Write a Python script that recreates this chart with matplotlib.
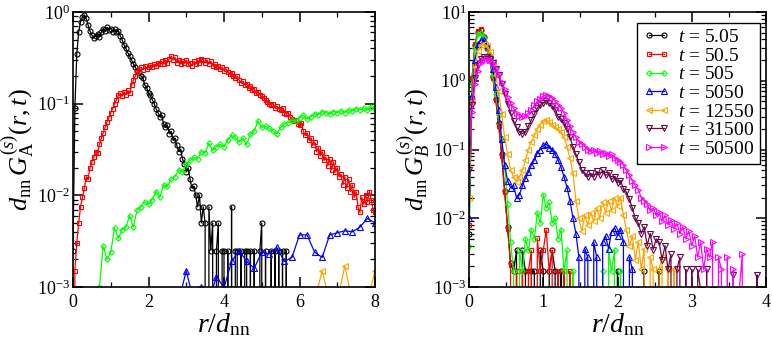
import matplotlib
matplotlib.use("Agg")
import matplotlib.pyplot as plt
import numpy as np
from matplotlib.ticker import MultipleLocator, LogLocator, NullFormatter

# ---- left panel: d_nn G_A^(s)(r,t), r sampled on regular grids ----
a_step_fine = 0.05
a_black = [0.0025, 0.09, 0.35, 0.6, 0.78, 0.88, 0.93, 0.85, 0.72, 0.62,
           0.56, 0.52, 0.55, 0.58, 0.54, 0.6, 0.66, 0.62, 0.68, 0.64,
           0.66, 0.61, 0.65, 0.6, 0.62, 0.55, 0.5, 0.44, 0.4, 0.36,
           0.33, 0.3, 0.27, 0.25, 0.23, 0.22, 0.2, 0.19, 0.16, 0.15,
           0.13, 0.125, 0.11, 0.1, 0.088, 0.08, 0.072, 0.075, 0.06, 0.055,
           0.058, 0.047, 0.05, 0.04, 0.042, 0.035, 0.03, 0.032, 0.025, 0.022,
           0.018, 0.02, 0.015, 0.012, 0.0125, 0.01, 0.0075, 0.01, 0.005, 0.0075,
           0.005, 0, 0.0075, 0.0025, 0.005, 0, 0.0025, 0.005, 0, 0.0025,
           0.0025, 0, 0.0025, 0, 0.0075, 0, 0.0025, 0.0025, 0, 0.0025,
           0, 0.0025, 0.0025, 0, 0.0025, 0, 0.0025, 0, 0, 0.0025,
           0.005, 0, 0.0025, 0, 0, 0.0025, 0, 0.0025, 0, 0.0025,
           0, 0.0025, 0, 0.0025, 0]
a_red = [0, 0.0015, 0.003, 0.005, 0.0075, 0.0095, 0.012, 0.016, 0.015, 0.02,
         0.023, 0.026, 0.03, 0.029, 0.036, 0.042, 0.048, 0.055, 0.063, 0.07,
         0.08, 0.088, 0.1, 0.11, 0.125, 0.13, 0.12, 0.135, 0.125, 0.14,
         0.13, 0.16, 0.18, 0.2, 0.22, 0.24, 0.25, 0.235, 0.26, 0.24,
         0.25, 0.265, 0.25, 0.27, 0.26, 0.28, 0.27, 0.29, 0.27, 0.3,
         0.28, 0.31, 0.33, 0.3, 0.32, 0.28, 0.3, 0.27, 0.29, 0.28,
         0.3, 0.27, 0.28, 0.26, 0.29, 0.27, 0.3, 0.28, 0.31, 0.3,
         0.28, 0.3, 0.27, 0.29, 0.26, 0.27, 0.25, 0.26, 0.24, 0.25,
         0.23, 0.24, 0.22, 0.21, 0.215, 0.2, 0.19, 0.2, 0.18, 0.17,
         0.175, 0.16, 0.165, 0.15, 0.155, 0.14, 0.145, 0.13, 0.135, 0.125,
         0.12, 0.115, 0.11, 0.105, 0.1, 0.097, 0.1, 0.09, 0.094, 0.088,
         0.085, 0.09, 0.08, 0.078, 0.08, 0.072, 0.068, 0.064, 0.067, 0.06,
         0.058, 0.062, 0.05, 0.045, 0.048, 0.04, 0.042, 0.035, 0.038, 0.03,
         0.033, 0.027, 0.03, 0.024, 0.026, 0.021, 0.025, 0.019, 0.023, 0.018,
         0.02, 0.016, 0.017, 0.013, 0.016, 0.012, 0.015, 0.011, 0.013, 0.0095,
         0.011, 0.0075, 0.0065, 0.0095, 0.008, 0.01, 0.0085, 0.011, 0.009, 0.007,
         0.0065]
a_green_start, a_green_step = 0.6, 0.1
a_green = [0, 0.001, 0.0028, 0.002, 0.0024, 0.0044, 0.0034, 0.0042, 0.0045, 0.006,
           0.0045, 0.007, 0.0075, 0.0085, 0.008, 0.009, 0.011, 0.0095, 0.013, 0.0125,
           0.015, 0.016, 0.019, 0.018, 0.022, 0.024, 0.026, 0.025, 0.03, 0.029,
           0.037, 0.031, 0.034, 0.036, 0.034, 0.04, 0.045, 0.043, 0.038, 0.042,
           0.036, 0.047, 0.05, 0.065, 0.055, 0.057, 0.054, 0.05, 0.047, 0.055,
           0.06, 0.062, 0.066, 0.064, 0.07, 0.075, 0.068, 0.072, 0.078, 0.076,
           0.082, 0.08, 0.077, 0.082, 0.08, 0.084, 0.08, 0.086, 0.083, 0.088,
           0.086, 0.09, 0.085, 0.092, 0.087]
a_blue_start, a_blue_step = 2.8, 0.2
a_blue = [0.0007, 0.0015, 0.0007, 0.001, 0.0007, 0.0013, 0.00098, 0.0019, 0.0025,
          0.0019, 0.0016, 0.0024, 0.0023, 0.0027, 0.0019, 0.0021, 0.0037, 0.0037,
          0.0024, 0.0021, 0.0037, 0.0039, 0.0041, 0.004, 0.0045, 0.0056, 0.005]
a_orange_start, a_orange_step = 6.4, 0.2
a_orange = [0.0007, 0.0015, 0.0007, 0.0007, 0.0017, 0.0007, 0.0007, 0.0007, 0.0015]

# ---- right panel: d_nn G_B^(s)(r,t), r step 0.04 from 0 ----
b_step = 0.04
b_black = [0.006, 1.0, 3.3, 5.2, 5.5, 4.3, 3.0, 2.0, 1.15, 0.55,
           0.24, 0.085, 0.025, 0.0075, 0.0022, 0.0017, 0.0034, 0, 0.0034, 0.0017,
           0, 0.0017, 0.0017, 0, 0.0034, 0.0017, 0, 0.0017, 0.0034, 0.0017,
           0, 0.0017, 0, 0, 0, 0, 0, 0, 0, 0,
           0, 0, 0, 0, 0, 0, 0, 0, 0, 0,
           0.0017, 0, 0, 0, 0, 0, 0, 0, 0, 0.0017,
           0, 0, 0, 0, 0.0017, 0]
b_red = [0.008, 1.1, 3.4, 5.3, 5.6, 4.4, 3.0, 2.0, 1.1, 0.52,
         0.22, 0.08, 0.024, 0.007, 0.0021, 0, 0.0017, 0, 0.0017, 0,
         0.0017, 0.0034, 0, 0.0051, 0.0017, 0.0034, 0.0068, 0.0017, 0.0034, 0,
         0.0017, 0, 0.0017, 0, 0.0017, 0]
b_green = [0.004, 0.9, 3.0, 4.8, 5.0, 4.2, 3.1, 2.0, 1.2, 0.65,
           0.32, 0.14, 0.055, 0.016, 0.0045, 0.0017, 0, 0.0034, 0.0017, 0.005,
           0.0034, 0.0068, 0.005, 0.012, 0.0085, 0.022, 0.014, 0.017, 0.0085, 0.01,
           0.005, 0.0068, 0.0017, 0.0034, 0, 0.0017, 0, 0, 0, 0,
           0, 0, 0, 0, 0, 0.0017, 0, 0.0034, 0.0017, 0.0034,
           0, 0.0017, 0, 0]
b_blue = [0.01, 0.6, 2.0, 3.4, 3.9, 3.9, 3.3, 2.4, 1.5, 0.8,
          0.38, 0.14, 0.06, 0.035, 0.028, 0.03, 0.02, 0.022, 0.03, 0.038,
          0.047, 0.06, 0.07, 0.09, 0.1, 0.115, 0.12, 0.105, 0.1, 0.085,
          0.07, 0.055, 0.04, 0.028, 0.018, 0.01, 0.006, 0.0027, 0, 0.0036,
          0.0027, 0, 0.0045, 0.0027, 0, 0.0045, 0.0055, 0.0036, 0.0064, 0.0073,
          0.0055, 0.0068, 0.0045, 0, 0.0027, 0.0018, 0, 0.0009]
b_orange = [0.02, 0.5, 1.6, 2.7, 3.3, 3.4, 3.2, 2.6, 1.9, 1.2,
            0.7, 0.33, 0.15, 0.085, 0.05, 0.04, 0.034, 0.04, 0.05, 0.07,
            0.1, 0.13, 0.16, 0.2, 0.23, 0.26, 0.27, 0.25, 0.23, 0.21,
            0.2, 0.18, 0.15, 0.11, 0.075, 0.045, 0.018, 0.01, 0.0065, 0.011,
            0.008, 0.012, 0.009, 0.014, 0.01, 0.017, 0.012, 0.018, 0.013, 0.02,
            0.015, 0.02, 0.011, 0.0068, 0.004, 0.0055, 0.0025, 0.0045, 0.0018, 0.0036,
            0, 0.0027, 0.0018, 0, 0.0018, 0.0027, 0, 0.0018, 0, 0.0018,
            0, 0.0009]
b_maroon = [0.05, 0.45, 1.1, 1.7, 2.1, 2.25, 2.25, 2.05, 1.8, 1.5,
            1.2, 0.9, 0.65, 0.46, 0.34, 0.26, 0.21, 0.18, 0.17, 0.18,
            0.22, 0.27, 0.33, 0.4, 0.45, 0.48, 0.5, 0.47, 0.43, 0.38,
            0.3, 0.28, 0.24, 0.2, 0.15, 0.11, 0.085, 0.065, 0.05, 0.046,
            0.04, 0.045, 0.04, 0.048, 0.043, 0.05, 0.042, 0.045, 0.037, 0.04,
            0.033, 0.035, 0.027, 0.024, 0.019, 0.014, 0.01, 0.0085, 0.006, 0.0075,
            0.004, 0.006, 0.0035, 0.005, 0.0045, 0.0025, 0.004, 0.0018, 0.003, 0,
            0.0018, 0.0027, 0, 0.0018, 0, 0.0018, 0, 0.0018, 0.0009, 0,
            0.0018, 0, 0.0009, 0, 0, 0, 0, 0, 0, 0.0015,
            0, 0, 0, 0, 0, 0, 0, 0.0015, 0]
b_magenta = [0.1, 0.35, 0.9, 1.4, 1.8, 2.0, 2.05, 2.0, 1.8, 1.55,
             1.25, 0.95, 0.75, 0.58, 0.47, 0.4, 0.34, 0.31, 0.3, 0.31,
             0.34, 0.38, 0.44, 0.5, 0.55, 0.6, 0.63, 0.6, 0.56, 0.5,
             0.45, 0.4, 0.34, 0.27, 0.22, 0.18, 0.15, 0.13, 0.12, 0.11,
             0.1, 0.095, 0.1, 0.09, 0.095, 0.085, 0.09, 0.08, 0.085, 0.075,
             0.07, 0.065, 0.06, 0.05, 0.042, 0.035, 0.03, 0.026, 0.02, 0.018,
             0.016, 0.013, 0.014, 0.011, 0.0125, 0.009, 0.011, 0.008, 0.0095, 0.007,
             0.0085, 0.006, 0.0075, 0.005, 0.0065, 0.004, 0.0055, 0.0027, 0.0045, 0.0018,
             0.0036, 0.0027, 0.0045, 0, 0.0027, 0.0018, 0, 0.0027, 0, 0.0018,
             0, 0.0009, 0.003, 0]

labels = ["5.05", "50.5", "505", "5050", "12550", "31500", "50500"]
colors = ["black", "#ff0000", "#00ff00", "#0000ff", "#ffa500", "#670748", "#ff00ff"]
markers = ["o", "s", "D", "^", "<", "v", ">"]
msizes = [3.6, 3.4, 2.8, 3.8, 3.8, 3.8, 3.8]

plt.rcParams.update({
    "font.family": "Liberation Serif",
    "mathtext.fontset": "custom",
    "mathtext.rm": "Liberation Serif",
    "mathtext.it": "Liberation Serif:italic",
    "mathtext.bf": "Liberation Serif:bold",
    "xtick.direction": "in",
    "ytick.direction": "in",
    "xtick.top": True,
    "ytick.right": True,
    "axes.linewidth": 1.2,
})


def grid(n, start, step):
    return start + step * np.arange(n)


def draw(ax, x, y, i, label=None):
    ax.plot(x, y, color=colors[i], lw=0.9, marker=markers[i], ms=msizes[i],
            mfc="none", mew=0.8, label=label)


def style_axes(ax, xmax, xmajor, xminor, ymin, ymax):
    ax.set_yscale("log")
    ax.set_xlim(0, xmax)
    ax.set_ylim(ymin, ymax)
    ax.xaxis.set_major_locator(MultipleLocator(xmajor))
    ax.xaxis.set_minor_locator(MultipleLocator(xminor))
    ax.yaxis.set_minor_locator(LogLocator(base=10, subs=np.arange(2, 10)))
    ax.yaxis.set_minor_formatter(NullFormatter())
    ax.tick_params(which="major", length=7, width=1.1, labelsize=13)
    ax.tick_params(which="minor", length=3.5, width=0.9)
    ax.tick_params(axis="x", pad=5)
    ax.tick_params(axis="y", pad=2)
    ax.set_xlabel(r"$r/d_{\rm nn}$", fontsize=20, labelpad=0)


fig = plt.figure(figsize=(7.72, 3.38), dpi=100)
ax1 = fig.add_axes([73 / 772, 51 / 338, 302 / 772, 275 / 338])
ax2 = fig.add_axes([469 / 772, 51 / 338, 297 / 772, 275 / 338])

# left panel
draw(ax1, grid(len(a_black), 0, a_step_fine), a_black, 0)
draw(ax1, grid(len(a_red), 0, a_step_fine), a_red, 1)
draw(ax1, grid(len(a_green), a_green_start, a_green_step), a_green, 2)
draw(ax1, grid(len(a_blue), a_blue_start, a_blue_step), a_blue, 3)
draw(ax1, grid(len(a_orange), a_orange_start, a_orange_step), a_orange, 4)
style_axes(ax1, 8, 2, 1, 1e-3, 1)
ax1.set_ylabel(r"$d_{\rm nn}\,G_{\rm A}^{(s)}(r,t)$", fontsize=19, labelpad=0)

# right panel
b_series = [b_black, b_red, b_green, b_blue, b_orange, b_maroon, b_magenta]
for i, vals in enumerate(b_series):
    draw(ax2, grid(len(vals), 0, b_step), vals, i, label=r"$t$ = " + labels[i])
style_axes(ax2, 4, 1, 0.5, 1e-3, 10)
ax2.set_ylabel(r"$d_{\rm nn}\,G_{B}^{(s)}(r,t)$", fontsize=19, labelpad=0)

leg = ax2.legend(loc="upper right", bbox_to_anchor=(0.992, 0.975), fontsize=14,
                 numpoints=2, handlelength=1.4, handletextpad=0.4,
                 labelspacing=0.05, borderpad=0.3, borderaxespad=0.2,
                 fancybox=False, framealpha=1, edgecolor="black")
leg.get_frame().set_linewidth(1.0)

fig.savefig("out.png", dpi=100)
